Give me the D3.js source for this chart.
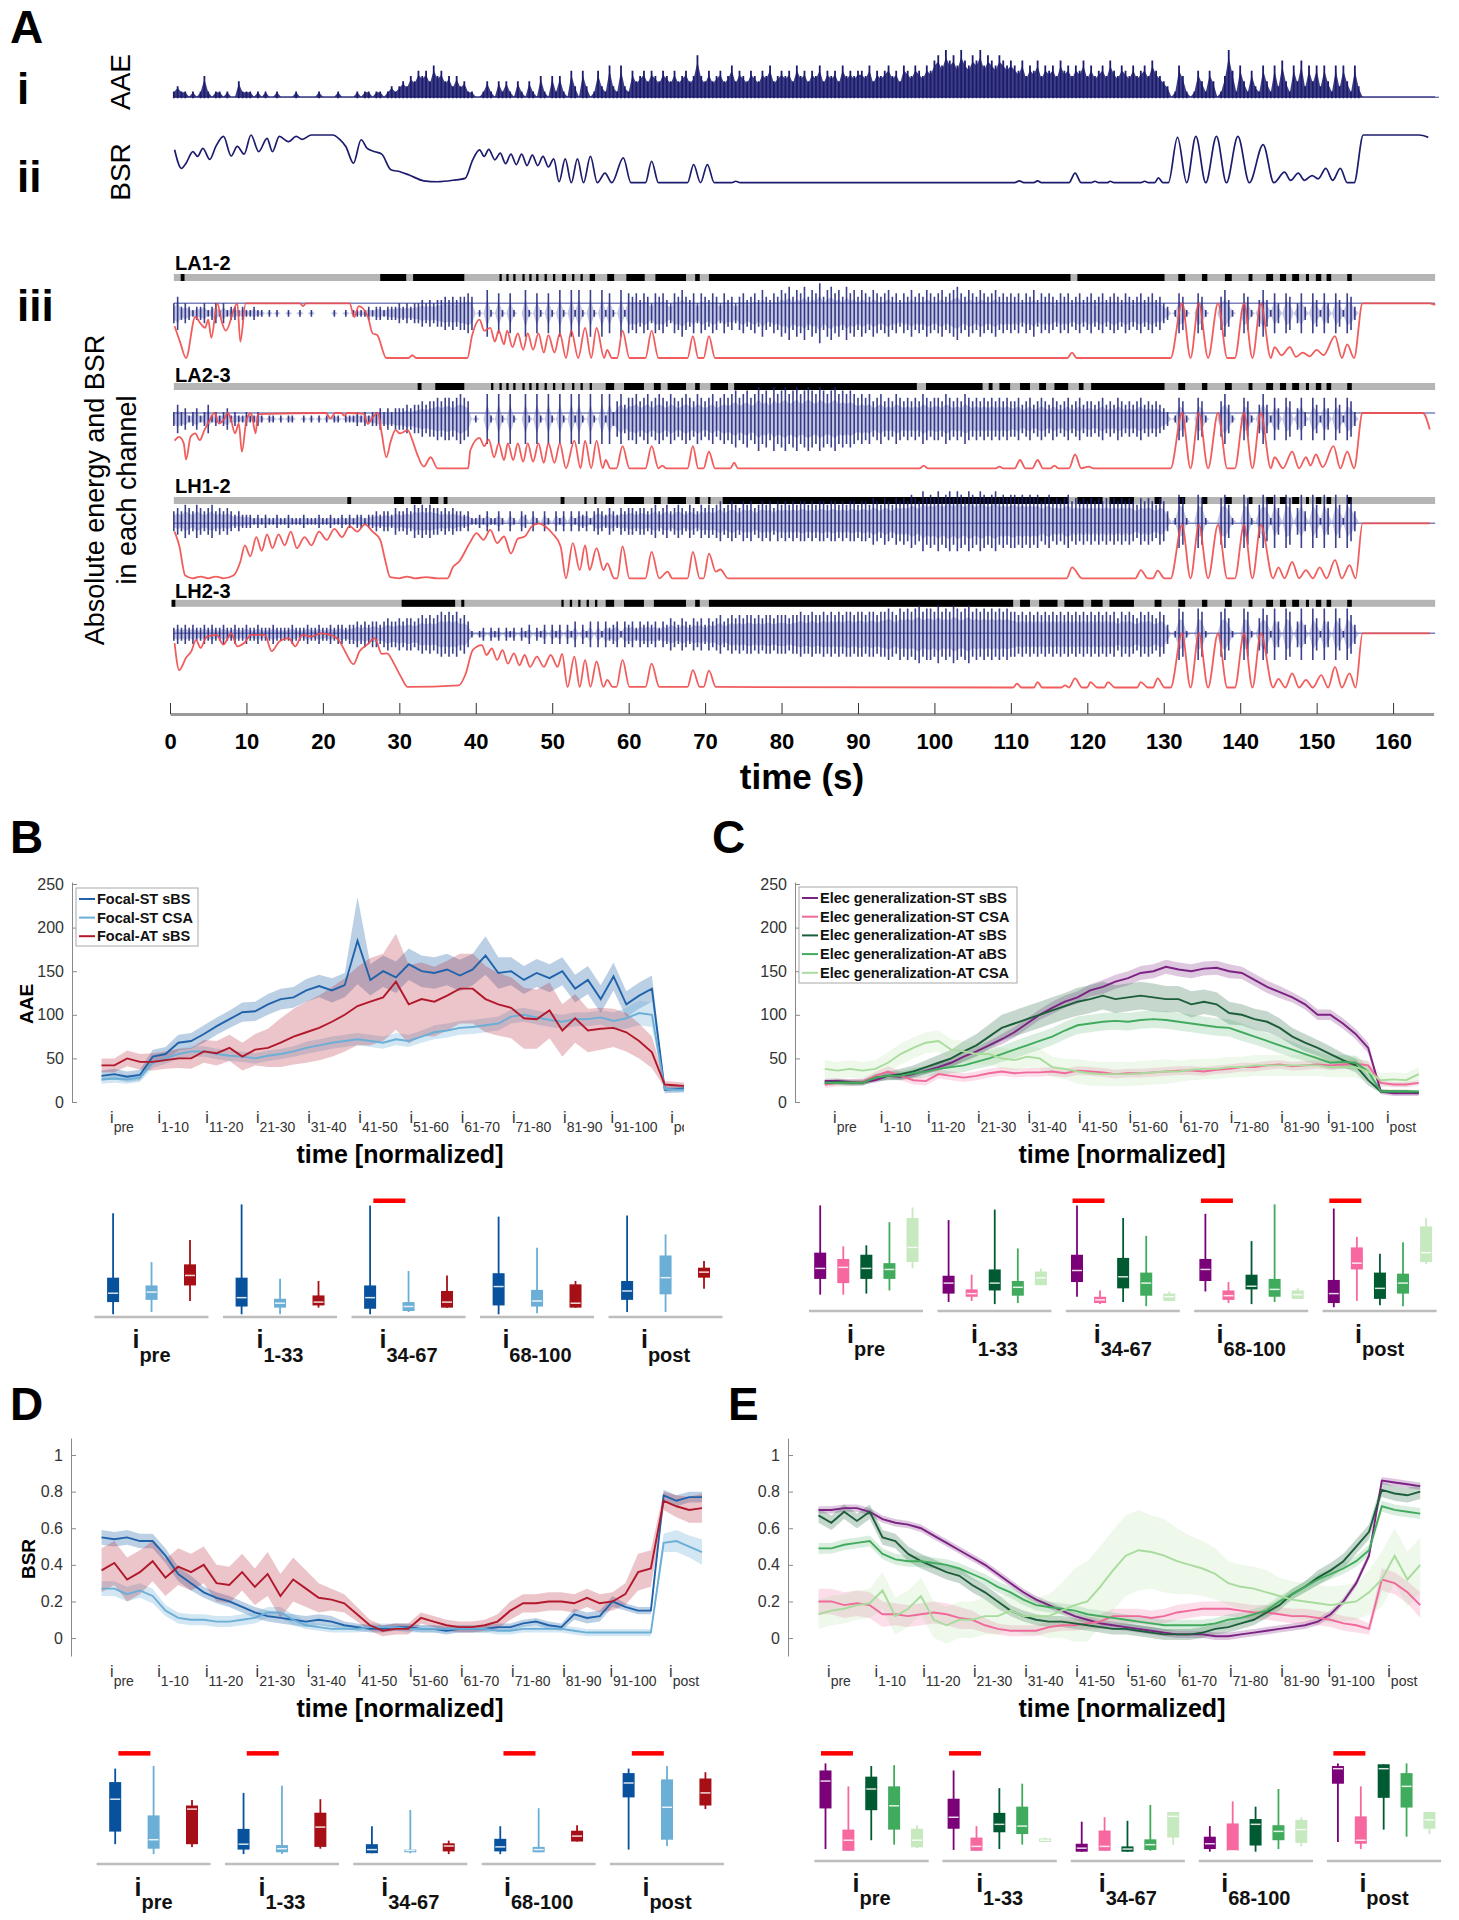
<!DOCTYPE html>
<html lang="en">
<head>
<meta charset="UTF-8">
<title>AAE and BSR across seizure</title>
<style>
  body{margin:0;background:#fff;}
  #main{width:1459px;height:1920px;}
</style>
</head>
<body>
<div id="main"></div>
<script src="https://d3js.org/d3.v7.min.js"></script>
<script>
/* =========== data: panel A (time in s) =========== */
// AAE of whole recording, one value every 0.5 s starting at 0.5 s (0..9)
const aaeTrace = [
  1,2,1,1,0,1,0,1,4,1,0,1,1,0,1,0,0,3,1,1,
  1,0,1,0,1,0,0,1,0,0,0,0,1,0,0,0,0,0,1,0,
  0,0,0,1,0,0,0,0,1,0,1,1,0,1,1,0,1,2,1,2,
  3,2,4,3,5,4,5,3,6,4,5,3,4,2,4,2,3,1,1,0,
  0,1,3,1,0,3,1,3,1,0,3,1,0,3,1,0,4,1,0,4,
  1,4,1,0,5,2,0,5,2,0,1,5,2,1,6,2,1,6,2,1,
  5,3,4,5,3,5,4,3,5,4,3,5,3,4,5,3,4,8,4,3,
  5,3,4,5,3,4,6,3,5,4,3,5,4,3,5,4,6,3,4,5,
  4,5,3,6,4,5,3,5,4,6,3,5,4,5,3,6,4,5,4,5,
  5,4,6,3,5,4,5,6,4,5,3,6,5,4,6,5,4,6,5,7,
  8,6,9,7,8,6,9,7,6,8,7,9,6,8,7,6,8,7,6,7,
  6,5,7,4,6,5,7,4,6,5,6,4,7,5,6,4,6,5,7,4,
  6,4,5,6,4,7,5,4,6,5,4,6,4,5,6,4,7,5,4,3,
  2,0,1,6,4,1,0,1,5,3,1,5,3,0,1,4,9,5,1,6,
  3,1,5,2,1,6,3,1,6,2,7,3,1,6,3,7,2,6,3,6,
  2,6,3,1,6,2,6,3,1,6,2,0,0,0,0,0,0,0,0,0,
  0,0,0,0,0,0,0,0,0,0,0,0
]
// BSR of whole recording, [time, bsr]
const bsrMain = [[0.6,0.69],[1.5,0.3],[2.1,0.41],[3.0,0.65],[3.6,0.55],[4.3,0.72],[5.2,0.49],[6.0,0.76],[7.0,0.97],[8.0,0.56],[8.8,0.76],[9.7,0.6],[10.6,1.0],[11.6,0.65],[12.7,0.93],[13.4,0.65],[14.3,0.97],[15.5,0.86],[16.5,0.97],[17.3,0.91],[18.5,1.0],[21.3,1.0],[22.2,0.91],[23.0,0.76],[24.0,0.41],[25.0,0.9],[25.8,0.72],[26.8,0.65],[27.7,0.6],[28.9,0.27],[30.1,0.23],[31.3,0.16],[33.2,0.04],[35.0,0.02],[37.4,0.06],[38.6,0.09],[39.6,0.48],[40.5,0.69],[41.1,0.55],[41.7,0.7],[42.5,0.48],[43.2,0.62],[43.9,0.4],[44.6,0.6],[45.3,0.38],[46.0,0.6],[46.7,0.36],[47.4,0.58],[48.1,0.36],[48.8,0.55],[49.5,0.33],[50.2,0.5],[50.9,0.02],[51.7,0.5],[52.5,0.0],[53.3,0.5],[54.1,0.0],[55.0,0.55],[55.9,0.0],[56.9,0.2],[57.8,0.0],[59.3,0.52],[60.3,0.0],[62.2,0.0],[63.0,0.45],[63.9,0.0],[67.7,0.0],[68.5,0.38],[69.4,0.0],[70.3,0.38],[71.2,0.0],[73.5,0.0],[74.0,0.03],[74.6,0.0],[110.5,0.0],[111.1,0.04],[111.7,0.0],[113.0,0.0],[113.5,0.04],[114.0,0.0],[117.6,0.0],[118.4,0.2],[119.2,0.0],[120.5,0.0],[121.0,0.03],[121.5,0.0],[122.6,0.0],[123.0,0.03],[123.5,0.0],[127.0,0.0],[127.5,0.03],[128.0,0.0],[128.8,0.0],[129.3,0.1],[129.9,0.0],[130.6,0.0],[131.8,0.95],[133.0,0.0],[134.2,0.97],[135.5,0.0],[136.9,0.97],[138.2,0.0],[139.7,0.97],[141.2,0.0],[143.0,0.8],[144.4,0.0],[145.8,0.22],[146.6,0.05],[147.6,0.2],[148.4,0.05],[149.4,0.15],[150.2,0.08],[151.2,0.3],[152.1,0.05],[153.1,0.3],[154.0,0.0],[154.9,0.0],[156.1,1.0],[163.4,1.0],[164.6,0.95]]

const channelNames = ['LA1-2','LA2-3','LH1-2','LH2-3']

// channel energy, one value every 0.5 s starting at 0.5 s (0..9)
const la12Energy = [
  3,5,2,3,2,1,2,2,3,1,2,3,1,3,1,2,2,1,2,1,
  1,2,1,1,0,1,0,1,0,0,1,0,0,1,0,0,1,0,0,0,
  0,0,1,0,0,1,0,1,1,1,1,2,1,2,2,1,2,2,2,3,
  2,3,2,3,3,4,3,4,3,4,4,5,4,5,4,5,5,6,5,0,
  1,0,7,1,0,6,1,0,6,1,0,0,7,1,0,6,1,0,6,1,
  0,7,1,0,7,1,7,1,0,7,1,0,7,1,6,1,0,7,1,6,
  5,6,4,6,5,3,6,5,6,4,3,6,5,7,5,4,6,3,6,5,
  4,6,5,3,6,4,5,3,5,6,4,5,6,4,7,5,4,6,5,7,
  6,8,5,7,6,8,5,7,6,9,5,7,8,6,7,5,8,6,7,5,
  7,6,5,7,6,5,6,7,5,6,4,6,5,7,5,6,5,7,6,5,
  6,7,5,6,7,8,6,5,7,6,5,7,6,5,6,7,5,6,5,6,
  5,6,4,6,5,7,4,6,5,6,5,4,6,5,6,4,5,6,4,5,
  6,4,5,6,4,5,6,5,4,6,5,4,5,6,4,5,6,4,5,3,
  2,0,1,6,5,1,0,0,6,5,1,0,0,0,5,7,4,1,0,0,
  6,5,1,0,4,7,4,1,6,3,0,6,5,0,3,6,2,0,6,4,
  1,6,3,0,6,4,1,6,5,2,0,0,0,0,0,0,0,0,0,0,
  0,0,0,0,0,0,0,0,0,0,0,0
]
const la23Energy = [
  2,4,2,3,1,2,3,1,2,4,1,2,1,2,3,1,2,1,1,2,
  1,1,2,1,0,1,1,0,1,0,1,1,0,0,1,0,1,0,1,0,
  1,0,1,1,0,1,1,1,2,1,2,1,2,2,3,2,3,2,3,3,
  3,4,3,4,4,5,4,5,5,6,5,6,6,5,6,7,6,5,0,1,
  0,0,7,1,0,7,1,0,7,1,0,0,7,1,0,7,1,0,7,1,
  0,7,1,0,7,1,7,1,0,7,1,0,7,1,7,2,5,7,4,6,
  6,7,5,6,7,5,6,7,6,5,7,6,5,6,7,6,5,7,6,5,
  6,7,5,6,7,6,7,8,6,7,8,6,7,9,7,8,6,9,7,8,
  9,7,8,9,7,8,9,8,7,9,8,7,8,9,7,8,7,8,7,6,
  7,6,7,5,6,7,5,6,5,7,6,5,6,5,6,5,7,6,5,6,
  6,5,7,6,5,6,5,7,6,5,6,5,6,5,6,5,6,5,6,5,
  5,6,4,5,6,4,5,6,5,4,6,5,4,5,6,4,5,6,4,5,
  5,4,5,6,4,5,4,6,5,4,5,4,5,6,4,5,4,5,4,3,
  2,0,1,6,5,1,0,0,6,5,1,0,0,0,5,7,4,1,0,0,
  6,5,1,0,4,7,4,1,6,3,0,6,5,0,3,6,2,0,6,4,
  1,6,3,0,6,4,1,6,5,2,0,0,0,0,0,0,0,0,0,0,
  0,0,0,0,0,0,0,0,0,0,0,0
]
const lh12Energy = [
  3,4,3,5,4,3,5,4,3,4,5,3,4,3,4,3,2,3,2,2,
  2,1,2,1,2,1,1,2,1,1,2,1,1,1,2,1,1,1,2,1,
  1,2,1,1,2,1,2,1,2,2,1,2,2,3,2,3,3,2,4,3,
  3,4,3,5,4,5,4,5,4,4,3,4,3,4,3,3,2,3,1,1,
  2,1,3,1,1,3,1,0,3,1,0,3,2,0,3,1,0,3,1,0,
  3,1,3,0,3,1,3,2,3,1,3,4,3,2,4,3,2,4,3,4,
  4,3,4,4,3,4,5,3,4,5,3,4,5,4,3,5,4,3,5,4,
  5,4,5,6,4,5,6,5,4,6,5,6,4,5,6,5,6,4,6,5,
  6,5,6,5,6,6,5,6,5,6,6,5,6,6,5,6,5,6,6,5,
  6,6,5,7,6,5,7,6,5,7,6,7,6,8,7,6,9,7,8,7,
  9,7,8,9,7,9,8,7,9,8,7,9,8,7,8,9,7,8,7,8,
  8,7,8,7,8,7,8,6,7,8,6,7,6,7,8,6,7,6,7,6,
  7,6,7,6,7,6,7,6,7,6,7,6,5,7,6,7,6,5,7,6,
  3,0,1,8,7,1,0,0,8,7,1,0,0,0,7,8,5,1,0,0,
  8,7,1,0,5,8,6,1,8,4,0,8,7,0,4,8,3,0,8,5,
  1,8,4,0,8,5,1,8,6,3,0,0,0,0,0,0,0,0,0,0,
  0,0,0,0,0,0,0,0,0,0,0,0
]
const lh23Energy = [
  2,3,2,3,2,3,2,2,3,2,3,2,2,3,2,2,3,2,2,3,
  2,2,3,2,2,2,3,2,2,2,2,3,2,2,2,3,2,2,3,2,
  2,3,2,3,3,2,3,3,4,3,4,3,4,4,3,4,5,4,4,5,
  4,5,5,4,5,6,5,6,5,6,7,6,7,6,7,5,6,4,1,0,
  1,2,0,2,1,2,0,2,1,2,0,2,1,3,0,2,1,3,0,3,
  1,3,0,3,1,4,0,3,1,4,0,4,1,4,2,3,4,1,4,3,
  4,2,4,3,4,3,4,2,4,3,5,4,3,5,4,3,5,4,5,3,
  5,4,5,6,4,5,6,5,6,5,6,6,5,6,5,6,6,5,6,6,
  6,5,6,6,7,6,6,7,6,6,7,6,7,6,7,6,7,7,6,7,
  7,6,7,7,6,7,7,8,7,6,8,7,8,7,8,9,7,8,8,7,
  9,7,8,7,9,8,7,8,9,7,8,7,8,7,8,7,8,7,8,7,
  7,6,7,6,7,6,7,6,7,6,7,6,7,6,7,6,7,6,7,6,
  7,6,7,6,7,6,7,5,7,6,7,6,5,7,6,7,6,5,7,6,
  3,0,1,8,7,1,0,0,8,7,1,0,0,0,7,8,5,1,0,0,
  8,7,1,0,5,8,6,1,8,4,0,8,7,0,4,8,3,0,8,5,
  1,8,4,0,8,5,1,8,6,3,0,0,0,0,0,0,0,0,0,0,
  0,0,0,0,0,0,0,0,0,0,0,0
]

// channel BSR, [time, bsr]
const la12Bsr = [[0.6,0.58],[1.3,0.3],[2.1,0.0],[3.3,0.75],[4.0,0.63],[4.6,0.55],[5.0,0.7],[5.4,0.37],[6.2,1.0],[6.7,0.7],[7.3,0.5],[8.8,1.0],[9.2,0.3],[9.9,1.0],[17.0,1.0],[17.4,0.95],[17.8,1.0],[23.5,1.0],[24.1,0.75],[24.7,0.95],[25.9,0.75],[26.5,0.45],[27.1,0.42],[28.3,0.0],[31.2,0.0],[31.7,0.05],[32.2,0.0],[38.9,0.0],[39.5,0.4],[40.5,0.7],[41.1,0.5],[41.9,0.55],[42.5,0.3],[43.0,0.5],[43.7,0.25],[44.1,0.5],[44.8,0.2],[45.5,0.45],[46.2,0.15],[46.8,0.45],[47.5,0.15],[48.2,0.45],[48.9,0.1],[49.5,0.42],[50.3,0.1],[51.0,0.45],[51.8,0.0],[52.5,0.5],[53.4,0.0],[54.3,0.55],[55.1,0.0],[55.8,0.55],[56.8,0.0],[57.2,0.15],[57.8,0.0],[58.5,0.0],[59.2,0.5],[60.1,0.0],[62.2,0.0],[63.0,0.5],[63.9,0.0],[67.7,0.0],[68.4,0.4],[69.1,0.0],[69.8,0.0],[70.5,0.4],[71.3,0.0],[117.4,0.0],[118.0,0.1],[118.6,0.0],[130.9,0.0],[132.4,1.0],[133.5,0.0],[134.6,1.0],[135.8,0.0],[137.1,1.0],[138.3,0.0],[139.3,0.0],[140.5,1.0],[141.6,0.0],[142.7,1.0],[144.0,0.0],[144.5,0.2],[145.4,0.05],[146.5,0.2],[147.3,0.02],[148.2,0.1],[149.1,0.03],[150.0,0.15],[150.9,0.05],[152.4,0.4],[153.3,0.0],[154.0,0.25],[154.9,0.0],[156.0,1.0],[164.8,1.0],[165.5,0.97]]
const la23Bsr = [[0.6,0.5],[1.2,0.57],[1.8,0.45],[2.1,0.16],[2.7,0.57],[3.3,0.63],[3.9,0.51],[4.5,0.69],[5.2,0.87],[5.8,1.0],[6.4,0.81],[7.0,0.87],[7.6,1.0],[8.0,0.87],[8.5,0.63],[9.0,0.81],[9.4,0.3],[10.0,0.87],[10.6,1.0],[11.2,0.63],[11.5,0.98],[20.4,1.0],[21.0,0.9],[21.6,1.0],[22.4,1.0],[22.8,0.95],[23.2,1.0],[25.3,0.99],[25.9,0.8],[26.5,0.92],[27.2,1.0],[27.7,0.63],[28.3,0.2],[28.9,0.5],[29.5,0.69],[30.1,0.63],[31.1,0.69],[31.7,0.51],[32.3,0.27],[33.2,0.03],[34.1,0.2],[35.0,0.0],[39.0,0.0],[39.3,0.33],[40.5,0.55],[41.1,0.4],[41.7,0.52],[42.4,0.2],[43.0,0.45],[43.7,0.15],[44.2,0.45],[44.9,0.15],[45.5,0.45],[46.2,0.12],[46.8,0.45],[47.5,0.12],[48.2,0.45],[48.9,0.1],[49.5,0.45],[50.3,0.1],[51.0,0.45],[51.8,0.0],[52.9,0.5],[53.7,0.0],[54.3,0.5],[55.1,0.0],[55.8,0.5],[56.6,0.0],[57.0,0.15],[57.6,0.0],[58.4,0.0],[59.2,0.4],[60.1,0.0],[62.2,0.0],[63.0,0.4],[63.9,0.0],[64.4,0.05],[64.9,0.0],[67.7,0.0],[68.4,0.4],[69.1,0.0],[69.8,0.0],[70.5,0.3],[71.3,0.0],[73.3,0.0],[73.8,0.1],[74.3,0.0],[98.1,0.0],[98.6,0.05],[99.1,0.0],[108.0,0.0],[108.5,0.03],[109.0,0.0],[110.5,0.0],[111.2,0.15],[111.9,0.0],[112.8,0.0],[113.5,0.15],[114.2,0.0],[115.2,0.0],[115.7,0.05],[116.2,0.0],[117.6,0.0],[118.4,0.25],[119.2,0.0],[120.2,0.03],[120.8,0.0],[130.9,0.0],[132.4,1.0],[133.5,0.0],[134.6,1.0],[135.8,0.0],[137.1,1.0],[138.3,0.0],[139.3,0.0],[140.5,1.0],[141.6,0.0],[142.7,1.0],[144.0,0.0],[144.5,0.2],[145.6,0.0],[146.8,0.3],[147.7,0.0],[148.6,0.2],[149.2,0.05],[149.9,0.25],[150.8,0.02],[152.2,0.4],[153.1,0.0],[154.0,0.3],[154.9,0.0],[156.0,1.0],[163.9,1.0],[164.8,0.7]]
const lh12Bsr = [[0.6,0.85],[1.2,0.6],[2.0,0.05],[3.0,0.0],[4.0,0.03],[5.0,0.0],[6.0,0.03],[7.0,0.0],[8.3,0.05],[9.2,0.3],[9.8,0.6],[10.5,0.4],[11.3,0.75],[12.0,0.5],[12.7,0.8],[13.4,0.55],[14.2,0.8],[15.0,0.6],[15.8,0.85],[16.6,0.55],[17.6,0.75],[18.5,0.6],[19.5,0.85],[20.5,0.7],[21.5,0.9],[22.5,0.75],[23.5,0.95],[24.5,0.85],[25.5,0.98],[26.5,0.85],[27.5,0.7],[28.2,0.3],[28.8,0.02],[30.0,0.0],[31.0,0.03],[32.0,0.0],[33.5,0.02],[35.0,0.0],[36.3,0.0],[37.0,0.2],[37.8,0.3],[39.2,0.64],[40.1,0.82],[41.0,0.7],[41.9,0.88],[42.8,0.64],[43.7,0.76],[44.6,0.45],[45.5,0.72],[46.4,0.76],[47.3,0.94],[48.2,1.0],[49.1,0.94],[50.0,0.82],[51.1,0.58],[51.8,0.0],[52.7,0.64],[53.6,0.15],[54.3,0.6],[54.9,0.15],[55.8,0.55],[56.7,0.15],[57.2,0.27],[58.1,0.0],[58.5,0.0],[59.2,0.58],[60.1,0.0],[62.2,0.0],[63.0,0.48],[64.0,0.0],[65.1,0.12],[65.7,0.0],[67.7,0.0],[68.4,0.48],[69.3,0.0],[69.8,0.0],[70.5,0.45],[71.4,0.12],[72.0,0.16],[73.0,0.0],[117.3,0.0],[118.0,0.2],[119.3,0.0],[126.3,0.0],[127.0,0.15],[127.9,0.0],[128.6,0.0],[129.2,0.14],[130.1,0.0],[130.9,0.0],[132.4,0.97],[133.5,0.0],[134.6,0.97],[135.8,0.0],[137.1,0.97],[138.3,0.0],[139.3,0.0],[140.5,0.97],[141.6,0.0],[142.7,0.97],[144.3,0.0],[145.0,0.2],[145.8,0.0],[146.8,0.3],[147.7,0.0],[148.6,0.15],[149.5,0.0],[150.4,0.2],[151.3,0.0],[152.4,0.33],[153.3,0.0],[154.3,0.24],[155.1,0.0],[156.0,1.0],[164.8,1.0]]
const lh23Bsr = [[0.6,0.82],[1.2,0.32],[2.1,0.55],[2.8,0.67],[3.4,0.88],[4.0,0.73],[4.8,0.94],[6.1,0.97],[7.0,0.79],[8.0,1.0],[8.8,0.76],[9.7,0.82],[10.6,0.97],[12.4,0.97],[13.3,0.67],[14.3,0.85],[15.5,0.91],[16.4,0.76],[17.3,0.97],[18.5,0.94],[19.7,1.0],[21.0,0.97],[22.2,0.85],[23.0,0.64],[24.0,0.43],[24.8,0.67],[25.8,0.79],[26.8,0.91],[27.7,0.62],[28.4,0.63],[29.3,0.44],[30.2,0.2],[31.1,0.01],[37.8,0.04],[38.7,0.26],[39.6,0.69],[40.8,0.78],[41.4,0.6],[42.1,0.72],[42.8,0.51],[43.5,0.69],[44.2,0.44],[45.0,0.63],[45.7,0.41],[46.4,0.6],[47.1,0.38],[48.0,0.57],[48.9,0.38],[49.8,0.6],[50.7,0.38],[51.3,0.62],[52.0,0.01],[52.9,0.57],[53.6,0.01],[54.3,0.51],[55.0,0.01],[55.8,0.48],[56.7,0.01],[57.2,0.14],[57.9,0.01],[58.4,0.01],[59.2,0.51],[60.1,0.01],[62.2,0.01],[63.0,0.44],[64.0,0.01],[67.7,0.01],[68.4,0.32],[69.3,0.01],[69.8,0.01],[70.5,0.31],[71.4,0.01],[110.3,0.0],[110.8,0.07],[111.4,0.0],[113.0,0.0],[113.5,0.1],[114.1,0.0],[116.6,0.0],[117.1,0.04],[117.6,0.0],[118.4,0.17],[119.3,0.0],[120.0,0.0],[120.4,0.1],[121.3,0.0],[122.2,0.0],[122.7,0.1],[123.6,0.0],[126.5,0.0],[127.0,0.1],[127.9,0.0],[128.6,0.0],[129.2,0.17],[130.1,0.0],[130.9,0.0],[132.4,1.0],[133.5,0.0],[134.6,1.0],[135.8,0.0],[137.1,1.0],[138.3,0.0],[139.3,0.0],[140.5,1.0],[141.6,0.0],[142.7,1.0],[144.3,0.0],[145.0,0.16],[145.9,0.0],[146.8,0.26],[147.7,0.0],[148.6,0.14],[149.5,0.0],[150.6,0.23],[151.5,0.0],[152.4,0.38],[153.3,0.0],[154.3,0.26],[155.1,0.0],[156.0,1.0],[164.8,1.0]]

// detected burst events per channel, [start, end] in s
const la12Events = [[1.4,1.9],[27.5,30.9],[31.8,38.5],[43.1,43.4],[44.0,44.3],[44.9,45.2],[46.1,46.4],[47.0,47.3],[47.9,48.2],[49.0,49.3],[50.1,50.4],[51.3,51.8],[52.6,52.9],[53.7,54.0],[54.9,55.6],[57.2,58.1],[59.7,62.1],[63.5,67.5],[68.7,69.3],[70.5,117.8],[118.7,130.1],[131.9,132.8],[135.0,135.7],[138.0,138.9],[141.1,141.6],[143.4,144.3],[145.2,146.0],[146.8,147.7],[148.6,149.0],[149.9,150.6],[151.3,151.9],[154.0,154.6]]
const la23Events = [[32.4,32.9],[34.7,38.5],[42.0,42.3],[43.1,43.4],[44.0,44.3],[44.9,45.2],[46.1,46.4],[47.0,47.3],[47.9,48.2],[49.0,49.3],[50.1,50.4],[51.3,51.6],[52.6,52.9],[53.7,54.0],[54.9,55.2],[57.0,58.1],[59.4,62.0],[63.3,64.2],[65.1,67.5],[68.7,69.3],[70.7,73.0],[73.8,97.7],[98.9,106.3],[107.1,107.6],[108.5,109.9],[111.2,112.5],[113.7,114.6],[115.7,117.5],[118.9,119.5],[120.5,130.1],[131.9,132.8],[135.0,135.7],[138.0,138.9],[141.1,141.6],[143.4,144.3],[145.2,146.0],[146.8,147.7],[148.6,149.0],[149.9,150.6],[151.3,151.9],[154.0,154.6]]
const lh12Events = [[23.2,23.7],[29.3,30.6],[31.5,32.9],[34.0,35.1],[35.8,36.3],[51.1,51.6],[54.2,54.5],[55.5,55.8],[57.0,58.1],[59.4,62.0],[63.3,64.2],[65.1,67.5],[68.7,69.3],[70.4,70.7],[72.3,117.5],[118.7,122.0],[122.9,126.1],[128.8,129.7],[131.9,132.8],[135.0,135.7],[138.0,138.9],[141.1,141.6],[143.4,144.3],[145.2,146.0],[146.8,147.7],[148.6,149.0],[149.9,150.6],[151.3,151.9],[154.0,154.6]]
const lh23Events = [[0.2,0.7],[30.3,37.3],[38.1,38.5],[51.2,51.5],[52.3,52.6],[53.4,53.7],[54.5,54.8],[55.6,55.9],[57.0,58.1],[59.4,62.0],[63.3,67.5],[68.7,69.3],[70.5,110.3],[111.2,112.5],[113.7,116.1],[117.0,119.5],[120.5,122.0],[122.9,126.1],[128.8,129.7],[131.9,132.8],[135.0,135.7],[138.0,138.9],[141.1,141.6],[143.4,144.3],[145.2,146.0],[146.8,147.7],[148.6,149.0],[149.9,150.6],[151.3,151.9],[154.0,154.6]]

const timeTicks = [0,10,20,30,40,50,60,70,80,90,100,110,120,130,140,150,160]

/* =========== data: panels B-E (normalized time) =========== */
// tick k sits at position k; samples start at -0.4 and step 0.25 (48 samples)
const tickNames = ['pre','1-10','11-20','21-30','31-40','41-50','51-60','61-70','71-80','81-90','91-100','post']
const focalNames = ['Focal-ST sBS','Focal-ST CSA','Focal-AT sBS']
const elecNames = ['Elec generalization-ST sBS','Elec generalization-ST CSA','Elec generalization-AT sBS','Elec generalization-AT aBS','Elec generalization-AT CSA']

const focalSTsBS_aae = [30,32,29,31,52,55,68,70,78,87,95,103, 104,112,118,120,128,133,128,134,185,140,150,143, 158,150,148,152,145,152,168,148,150,140,148,142, 150,130,140,118,144,112,122,130,14,15,16,16]
const focalSTsBS_aaeSd = [6,6,6,6,8,8,9,9,10,10,10,11, 11,12,12,12,13,13,14,14,50,18,18,18, 18,18,18,18,18,18,22,18,16,16,16,16, 16,16,16,16,16,15,15,15,4,4,4,4]
const focalSTcsa_aae = [26,27,26,28,45,50,55,58,58,55,53,52, 50,53,55,58,62,65,68,70,72,70,68,72, 70,75,80,82,85,86,88,90,98,100,97,94, 92,95,95,97,93,96,102,100,15,14,14,14]
const focalSTcsa_aaeSd = [5,5,5,5,6,6,6,6,6,6,6,6, 6,6,6,6,7,7,7,7,7,7,7,7, 7,7,8,8,8,8,8,8,8,8,8,8, 8,8,8,8,10,12,14,14,3,3,3,3]
const focalATsBS_aae = [42,42,50,46,46,48,50,50,58,56,62,52, 60,62,68,75,80,85,92,100,110,115,120,138, 112,118,115,122,130,130,118,112,108,96,95,105, 82,96,82,84,85,80,70,57,20,19,18,18]
const focalATsBS_aaeSd = [8,8,9,9,10,10,11,12,13,14,15,16, 18,22,28,32,35,37,40,42,45,50,50,55, 45,42,40,40,40,40,38,36,35,35,34,32, 30,28,25,24,22,22,20,18,4,4,4,4]

const elecSTsBS_aae = [24,24,23,23,25,30,29,32,36,40,45,52, 58,65,72,80,90,100,108,115,120,128,132,138, 142,148,150,155,152,150,153,154,150,148,140,132, 126,120,112,100,100,90,78,62,12,10,10,10]
const elecSTsBS_aaeSd = [3,3,3,3,3,4,4,4,4,4,5,5, 5,5,6,6,6,6,7,7,7,7,8,8, 8,8,8,8,8,8,8,8,8,7,7,7, 7,6,6,6,6,6,6,6,3,3,3,3]
const elecSTcsa_aae = [20,22,22,23,30,35,30,25,24,32,30,28, 30,33,35,33,34,34,35,33,36,35,34,32, 33,33,34,35,36,36,35,37,38,40,40,42, 43,41,42,43,42,43,44,42,22,20,20,22]
const elecSTcsa_aaeSd = [4,4,4,4,5,6,5,5,5,5,5,5, 5,5,5,5,5,5,5,5,5,5,5,5, 5,5,5,5,5,5,5,5,5,5,5,5, 5,5,5,5,5,5,5,5,3,3,3,3]
const elecATsBS_aae = [22,23,22,22,28,30,32,35,40,45,50,58, 65,75,85,90,95,100,105,110,115,118,122,118, 120,122,120,118,118,112,115,112,102,100,95,92, 85,75,68,62,55,48,42,25,12,12,12,11]
const elecATsBS_aaeSd = [3,3,3,3,4,5,6,7,8,9,10,12, 13,14,15,15,15,15,15,15,16,16,16,16, 16,16,16,15,15,15,14,14,13,12,12,12, 11,10,10,9,9,8,8,6,2,2,2,2]
const elecATabs_aae = [22,22,22,22,28,30,30,33,35,38,40,42, 46,50,55,60,65,70,75,82,88,90,92,93, 92,94,95,94,92,90,88,86,85,80,75,70, 65,60,55,50,45,46,45,35,12,12,12,12]
const elecATabs_aaeSd = [3,3,3,3,4,5,5,6,6,7,7,8, 8,9,9,10,10,10,10,10,10,10,10,10, 10,10,10,10,10,10,10,10,10,10,9,9, 9,9,8,8,8,8,8,6,2,2,2,2]
const elecATcsa_aae = [38,36,38,36,38,45,55,62,68,70,60,58, 55,55,50,48,52,50,40,38,35,33,32,32, 32,33,34,35,35,37,38,38,40,40,42,42, 42,42,42,42,40,40,40,35,25,26,25,32]
const elecATcsa_aaeSd = [10,10,10,10,10,12,12,12,12,12,12,12, 12,12,12,12,12,12,12,12,14,14,14,14, 14,14,14,14,12,12,12,12,12,12,12,12, 12,12,12,12,12,12,12,12,8,8,8,8]

const focalSTsBS_bsr = [.55,.54,.55,.53,.53,.45,.35,.30,.25,.22,.20,.17, .14,.12,.11,.10,.09,.10,.09,.07,.06,.05,.05,.06, .06,.05,.05,.04,.05,.05,.05,.06,.06,.08,.09,.07, .06,.13,.11,.12,.20,.17,.15,.15,.78,.75,.77,.77]
const focalSTsBS_bsrSd = [.04,.04,.04,.04,.04,.04,.04,.04,.03,.03,.03,.03, .03,.03,.03,.03,.03,.03,.03,.02,.02,.02,.02,.02, .02,.02,.02,.02,.02,.02,.02,.02,.02,.02,.02,.02, .02,.03,.03,.03,.03,.02,.02,.02,.03,.03,.03,.03]
const focalSTcsa_bsr = [.27,.27,.24,.26,.23,.15,.11,.10,.10,.09,.09,.10, .11,.14,.14,.10,.07,.06,.05,.05,.05,.06,.06,.06, .05,.05,.05,.05,.05,.05,.05,.04,.04,.05,.05,.05, .05,.04,.03,.03,.03,.03,.03,.03,.52,.53,.50,.47]
const focalSTcsa_bsrSd = [.04,.04,.04,.04,.04,.03,.03,.03,.03,.03,.03,.03, .03,.03,.03,.03,.02,.02,.02,.02,.02,.02,.02,.02, .02,.02,.02,.02,.02,.02,.02,.02,.02,.02,.02,.02, .02,.02,.02,.02,.02,.02,.02,.02,.05,.06,.06,.07]
const focalATsBS_bsr = [.37,.41,.32,.36,.42,.33,.39,.36,.40,.30,.29,.36, .28,.35,.23,.32,.27,.22,.21,.19,.13,.07,.04,.05, .05,.11,.09,.07,.06,.06,.07,.09,.15,.19,.19,.20, .20,.19,.22,.19,.20,.24,.36,.38,.75,.72,.70,.71]
const focalATsBS_bsrSd = [.12,.12,.12,.12,.11,.10,.10,.10,.10,.10,.10,.10, .10,.12,.12,.12,.10,.08,.06,.05,.04,.03,.03,.03, .03,.03,.03,.03,.03,.03,.03,.04,.05,.05,.05,.05, .05,.05,.05,.05,.05,.06,.10,.10,.05,.06,.07,.08]

const elecSTsBS_bsr = [.70,.70,.71,.71,.69,.65,.63,.62,.60,.56,.52,.48, .44,.40,.35,.30,.25,.21,.18,.15,.12,.10,.08,.07, .06,.05,.04,.03,.02,.02,.02,.01,.01,.02,.03,.04, .05,.06,.07,.09,.13,.20,.30,.45,.86,.85,.84,.83]
const elecSTsBS_bsrSd = [.02,.02,.02,.02,.02,.02,.02,.02,.02,.02,.02,.02, .02,.02,.02,.02,.02,.02,.02,.02,.02,.02,.02,.02, .02,.02,.02,.02,.02,.02,.02,.02,.02,.02,.02,.02, .02,.02,.02,.02,.02,.02,.02,.02,.02,.02,.02,.02]
const elecSTcsa_bsr = [.20,.20,.18,.19,.18,.13,.13,.12,.13,.14,.13,.11, .10,.07,.05,.04,.04,.04,.06,.07,.07,.08,.09,.12, .12,.12,.11,.12,.14,.15,.16,.16,.16,.15,.14,.14, .13,.12,.12,.11,.10,.08,.07,.05,.32,.30,.25,.18]
const elecSTcsa_bsrSd = [.07,.07,.07,.07,.07,.07,.06,.06,.06,.06,.06,.06, .05,.04,.03,.03,.03,.03,.03,.03,.03,.03,.04,.04, .04,.04,.04,.04,.04,.04,.04,.04,.04,.04,.04,.04, .04,.04,.04,.04,.04,.04,.04,.03,.06,.06,.06,.07]
const elecATsBS_bsr = [.67,.63,.69,.64,.69,.55,.53,.46,.42,.39,.36,.34, .29,.25,.20,.15,.12,.10,.09,.09,.08,.07,.06,.05, .05,.04,.03,.02,.02,.02,.03,.05,.06,.08,.10,.14, .18,.24,.28,.33,.37,.42,.50,.58,.81,.79,.78,.80]
const elecATsBS_bsrSd = [.04,.04,.04,.04,.04,.04,.04,.04,.04,.04,.04,.04, .04,.04,.04,.03,.03,.03,.03,.03,.03,.03,.03,.03, .03,.03,.03,.03,.03,.03,.03,.03,.03,.03,.03,.03, .03,.03,.03,.04,.04,.04,.04,.04,.04,.04,.04,.04]
const elecATabs_bsr = [.49,.49,.51,.52,.53,.46,.43,.42,.42,.41,.40,.38, .35,.32,.28,.25,.21,.18,.17,.16,.15,.13,.12,.11, .10,.09,.08,.07,.07,.07,.07,.08,.10,.11,.13,.15, .20,.24,.28,.32,.35,.38,.42,.48,.72,.70,.69,.68]
const elecATabs_bsrSd = [.03,.03,.03,.03,.03,.03,.03,.03,.03,.03,.03,.03, .03,.03,.03,.03,.03,.03,.03,.03,.03,.03,.03,.03, .03,.03,.03,.03,.03,.03,.03,.03,.03,.03,.03,.03, .03,.03,.03,.03,.03,.03,.03,.03,.03,.03,.03,.03]
const elecATcsa_bsr = [.13,.15,.16,.18,.19,.26,.12,.16,.23,.10,.07,.10, .10,.12,.12,.15,.12,.12,.12,.15,.18,.20,.28,.37, .45,.48,.47,.45,.42,.40,.38,.35,.30,.28,.27,.25, .23,.21,.20,.19,.18,.19,.20,.25,.32,.45,.32,.40]
const elecATcsa_bsrSd = [.08,.08,.08,.08,.08,.10,.10,.10,.10,.10,.10,.10, .10,.10,.10,.10,.10,.10,.12,.15,.20,.22,.22,.22, .22,.22,.20,.20,.18,.16,.15,.14,.12,.12,.12,.12, .10,.10,.10,.10,.10,.10,.10,.12,.15,.15,.15,.15]

// box plots: per group, per series [min, q1, median, q3, max] (0-100 scale)
const boxGroups = ['pre','1-33','34-67','68-100','post']
const boxFocalAAE = [
  [[0,11,19,33,91],[2,13,20,26,47],[12,26,35,45,67]],
  [[0,7,15,33,99],[0,6,10,14,32],[6,8,11,17,30]],
  [[0,5,15,26,98],[2,3,7,11,39],[6,6,11,21,35]],
  [[0,8,25,37,88],[1,7,12,22,60],[6,6,10,27,30]],
  [[2,13,21,30,89],[2,18,33,53,72],[23,33,38,42,48]]
]
const boxElecAAE = [
  [[13,28,38,53,98],[13,24,39,47,59],[14,28,38,51,60],[17,28,37,43,82],[38,44,58,86,96]],
  [[6,14,24,31,84],[7,11,14,18,32],[4,17,24,37,94],[5,12,20,26,57],[22,22,29,35,38]],
  [[11,25,36,51,98],[4,5,8,11,17],[6,19,30,48,86],[2,12,24,34,69],[7,7,11,14,16]],
  [[16,26,37,47,90],[5,8,12,17,25],[4,18,21,32,64],[6,11,18,28,99],[9,9,13,17,19]],
  [[1,5,14,27,95],[7,37,43,58,68],[3,9,19,34,52],[2,14,24,33,63],[42,44,53,78,86]]
]
const boxFocalBSR = [
  [[12,26,62,81,96],[1,7,17,44,99],[9,12,51,55,61]],
  [[1,6,12,29,69],[1,3,7,11,77],[7,9,31,47,62]],
  [[2,2,6,12,32],[2,3,5,6,50],[1,4,10,13,16]],
  [[1,4,9,18,32],[3,3,6,9,52],[15,15,21,27,33]],
  [[6,64,80,91,96],[10,17,53,84,99],[51,55,69,85,92]]
]
const boxElecBSR = [
  [[3,49,80,92,100],[1,1,13,25,74],[13,47,71,85,97],[8,25,52,74,98],[4,5,13,26,30]],
  [[2,26,39,60,92],[1,1,6,16,29],[3,22,31,44,72],[8,20,29,51,77],[11,11,13,15,16]],
  [[0,0,4,9,34],[1,1,6,24,39],[0,0,3,6,35],[1,2,8,14,53],[8,16,40,45,45]],
  [[0,3,9,17,29],[1,1,1,32,57],[0,7,31,37,51],[3,13,23,30,71],[6,10,25,36,39]],
  [[11,77,94,97,100],[3,9,13,40,74],[25,61,94,99,99],[17,50,74,89,100],[20,26,36,45,45]]
]
// groups with a significant difference between the first two series
const sigFocalAAE = [2]
const sigElecAAE = [2,3,4]
const sigFocalBSR = [0,1,3,4]
const sigElecBSR = [0,1,4]

/* =========== styles =========== */
const SANS = 'Arial, "Liberation Sans", Helvetica, sans-serif'
const focalColors = ['#2163aa','#6baed6','#b2182b']
const focalBox = ['#08519c','#6baed6','#a50f15']
const elecColors = ['#7b2282','#ef6a9a','#1d5e3a','#41ab5d','#a8dc9c']
const elecBox = ['#7a0177','#f768a1','#005a32','#41ab5d','#c7e9c0']

/* =========== svg =========== */
const svg = d3.select('#main').append('svg')
  .attr('width',1459).attr('height',1920)
  .attr('viewBox','0 0 1459 1920')

function txt(g, s, x, y, o = {}) {
  const t = g.append('text').attr('x',x).attr('y',y).text(s)
    .attr('font-family', SANS)
    .attr('font-size', o.size || 16)
    .attr('font-weight', o.weight || 'normal')
    .attr('fill', o.fill || '#000')
    .attr('text-anchor', o.anchor || 'start')
  if (o.rotate) t.attr('transform', `rotate(${o.rotate},${x},${y})`)
  return t
}
// "i" with a subscript
function subLabel(g, x, y, sub, o) {
  const t = g.append('text').attr('x',x).attr('y',y).attr('text-anchor','middle')
    .attr('font-family',SANS).attr('font-weight',o.weight).attr('fill',o.fill)
  t.append('tspan').attr('font-size',o.size).text('i')
  t.append('tspan').attr('font-size',o.subSize).attr('dy',o.dy).text(sub)
}

/* =========== panel A =========== */
txt(svg,'A',10,43,{size:46,weight:'bold'})
txt(svg,'i',17,104,{size:44,weight:'bold'})
txt(svg,'ii',17,192,{size:44,weight:'bold'})
txt(svg,'iii',17,321,{size:44,weight:'bold'})
txt(svg,'AAE',130,82,{size:28,rotate:-90,anchor:'middle'})
txt(svg,'BSR',130,172,{size:28,rotate:-90,anchor:'middle'})
txt(svg,'Absolute energy and BSR',104,490,{size:27,rotate:-90,anchor:'middle'})
txt(svg,'in each channel',136,490,{size:27,rotate:-90,anchor:'middle'})

const tScale = d3.scaleLinear().domain([0,165.3]).range([170,1433.6])
const sampleT = k => 0.5 + 0.5 * k

// (i) AAE: filled envelope plus spikes
const aaeY = d3.scaleLinear().domain([0,9]).range([96.7,50])
svg.append('line').attr('x1',tScale(0.5)).attr('x2',tScale(165.5))
  .attr('y1',aaeY(0)).attr('y2',aaeY(0))
  .attr('stroke','#4a4a9a').attr('stroke-width',1.6).attr('opacity',0.7)
svg.append('path').datum(aaeTrace)
  .attr('d', d3.area().x((d,k)=>tScale(sampleT(k))).y0(aaeY(0)+1).y1(d=>aaeY(d*0.85)))
  .attr('fill','#1c1c6e').attr('opacity',0.85)
const pI = d3.path()
aaeTrace.forEach((a,k) => {
  if (a > 0) { const x = tScale(sampleT(k)); pI.moveTo(x,aaeY(0)+1.5); pI.lineTo(x,aaeY(a)) }
})
svg.append('path').attr('d',pI.toString()).attr('fill','none')
  .attr('stroke','#1c1c6e').attr('stroke-width',1.8)

// (ii) BSR
const bsrY = d3.scaleLinear().domain([0,1]).range([182.7,135])
svg.append('path').datum(bsrMain)
  .attr('d', d3.line().x(d=>tScale(d[0])).y(d=>bsrY(d[1])).curve(d3.curveMonotoneX))
  .attr('fill','none').attr('stroke','#1c1c6e').attr('stroke-width',1.7)

// (iii) channels
const channels = [
  {energy: la12Energy, bsr: la12Bsr, events: la12Events},
  {energy: la23Energy, bsr: la23Bsr, events: la23Events},
  {energy: lh12Energy, bsr: lh12Bsr, events: lh12Events},
  {energy: lh23Energy, bsr: lh23Bsr, events: lh23Events}
]
const chanLayout = [
  {label:270, bar:277.5, base:303.3, zero:358, up:20, down:40},
  {label:381.5, bar:386.5, base:413, zero:468.3, up:26, down:38},
  {label:493, bar:500.5, base:523.3, zero:578.3, up:32, down:28},
  {label:598, bar:603.3, base:633.3, zero:687.5, up:28, down:30}
]
channels.forEach((c,i) => {
  const L = chanLayout[i]
  const g = svg.append('g')
  txt(g, channelNames[i], 175, L.label, {size:20, weight:'bold'})
  g.append('rect').attr('x',tScale(0.5)).attr('width',tScale(165.5)-tScale(0.5))
    .attr('y',L.bar-3.5).attr('height',7).attr('fill','#b5b5b5')
  g.selectAll('rect.ev').data(c.events).join('rect').attr('class','ev')
    .attr('x',d=>tScale(d[0])).attr('width',d=>Math.max(1.6,tScale(d[1])-tScale(d[0])))
    .attr('y',L.bar-3.5).attr('height',7).attr('fill','#000')
  // energy around the baseline: light envelope, dark spikes
  const eY = d3.scaleLinear().domain([-9,9]).range([L.base+L.down, L.base-L.up])
  g.append('line').attr('x1',tScale(0.5)).attr('x2',tScale(165.5))
    .attr('y1',L.base).attr('y2',L.base).attr('stroke','#7b80bd').attr('stroke-width',1.4)
  g.append('path').datum(c.energy)
    .attr('d', d3.area().x((d,k)=>tScale(sampleT(k))).y0(d=>eY(-d*0.6)).y1(d=>eY(d*0.6)))
    .attr('fill','#6b70b5').attr('opacity',0.4)
  const p = d3.path()
  c.energy.forEach((a,k) => {
    if (a > 0) { const x = tScale(sampleT(k)); p.moveTo(x,eY(-a)); p.lineTo(x,eY(a)) }
  })
  g.append('path').attr('d',p.toString()).attr('fill','none')
    .attr('stroke','#1a2078').attr('stroke-width',1.6).attr('opacity',0.85)
  // BSR in red
  const rY = d3.scaleLinear().domain([0,1]).range([L.zero, L.base])
  g.append('path').datum(c.bsr)
    .attr('d', d3.line().x(d=>tScale(d[0])).y(d=>rY(d[1])).curve(d3.curveMonotoneX))
    .attr('fill','none').attr('stroke','#ef4b4b').attr('stroke-width',1.8).attr('opacity',0.9)
})

// time axis
const gAx = svg.append('g').attr('transform','translate(0,714)')
  .call(d3.axisBottom(tScale).tickValues(timeTicks).tickSizeInner(-11).tickSizeOuter(0).tickPadding(19))
gAx.select('.domain').attr('stroke','#9a9a9a').attr('stroke-width',3)
gAx.selectAll('.tick line').attr('stroke','#333')
gAx.selectAll('text').attr('font-size',22).attr('font-weight','bold').attr('font-family',SANS).attr('fill','#000')
txt(svg,'time (s)',802,789,{size:35,weight:'bold',anchor:'middle'})

/* =========== line panels =========== */
const tGrid = d3.range(48).map(i => -0.4 + i * 0.25)

function linePanel(o) {
  const g = svg.append('g')
  const x = d3.scaleLinear().domain(o.tDom).range([o.left,o.right])
  const y = d3.scaleLinear().domain(o.yDom).range([o.bottom,o.top])
  const clipId = o.id + '-clip'
  g.append('clipPath').attr('id',clipId).append('rect')
    .attr('x',o.left).attr('y',o.top-40).attr('width',o.right-o.left+1).attr('height',o.bottom-o.top+90)
  const plot = g.append('g').attr('clip-path',`url(#${clipId})`)
  const rows = o.series.map(s => tGrid.map((t,i) => [t, s.mean[i], s.sd[i]]))
  rows.forEach((r,si) => {
    plot.append('path').datum(r)
      .attr('d', d3.area().x(d=>x(d[0])).y0(d=>y(d[1]-d[2])).y1(d=>y(d[1]+d[2])))
      .attr('fill',o.colors[si]).attr('opacity',o.bandOp[si])
  })
  rows.forEach((r,si) => {
    plot.append('path').datum(r)
      .attr('d', d3.line().x(d=>x(d[0])).y(d=>y(d[1])))
      .attr('fill','none').attr('stroke',o.colors[si]).attr('stroke-width',1.9)
  })
  // axes
  const gy = g.append('g').attr('transform',`translate(${o.left},0)`)
    .call(d3.axisLeft(y).tickValues(o.yTicks).tickSizeInner(-5).tickSizeOuter(0).tickPadding(8).tickFormat(o.yFmt))
  const gx = g.append('g').attr('transform',`translate(0,${o.bottom})`).attr('clip-path',`url(#${clipId})`)
    .call(d3.axisBottom(x).tickValues(d3.range(12)).tickSizeInner(-5).tickSizeOuter(0).tickFormat(''))
  ;[gy,gx].forEach(a => {
    a.select('.domain').attr('stroke','#8a8a8a')
    a.selectAll('.tick line').attr('stroke','#8a8a8a')
  })
  gy.selectAll('text').attr('font-size',16).attr('font-family',SANS).attr('fill','#333')
  const gl = g.append('g').attr('clip-path',`url(#${clipId})`)
  tickNames.forEach((n,k) => subLabel(gl, x(k), o.bottom+21, n,
    {size:16, subSize:14, dy:9, weight:'normal', fill:'#333'}))
  txt(g,'time [normalized]',o.xLabelX,o.bottom+61,{size:25,weight:'bold',anchor:'middle'})
  if (o.yLabel) txt(g,o.yLabel,o.yLabelX,(o.top+o.bottom)/2+12,{size:19,weight:'bold',anchor:'middle',rotate:-90})
  if (o.legend) {
    const L = o.legend
    g.append('rect').attr('x',L.x).attr('y',L.y).attr('width',L.w).attr('height',L.h)
      .attr('fill','#fff').attr('stroke','#a8a8a8').attr('stroke-width',1)
    o.names.forEach((n,i) => {
      const cy = L.y + 11 + i * L.dy
      g.append('line').attr('x1',L.x+3).attr('x2',L.x+19).attr('y1',cy).attr('y2',cy)
        .attr('stroke',o.colors[i]).attr('stroke-width',2)
      txt(g,n,L.x+21,cy+5,{size:14.5,weight:'bold',fill:'#111'})
    })
  }
}

const fmtAAE = d3.format('d')
const fmtBSR = d => d === 0 ? '0' : d === 1 ? '1' : d3.format('.1f')(d)

// B
txt(svg,'B',10,853,{size:46,weight:'bold'})
linePanel({id:'pB', left:72, right:683, top:882, bottom:1102, tDom:[-0.977,10.957], yDom:[0,252.3],
  yTicks:[0,50,100,150,200,250], yFmt:fmtAAE, yLabel:'AAE', yLabelX:33, xLabelX:400,
  colors:focalColors, bandOp:[0.3,0.3,0.25], names:focalNames,
  series:[{mean:focalSTsBS_aae,sd:focalSTsBS_aaeSd},{mean:focalSTcsa_aae,sd:focalSTcsa_aaeSd},{mean:focalATsBS_aae,sd:focalATsBS_aaeSd}],
  legend:{x:76,y:888,w:122,h:58,dy:18.6}})
// C
txt(svg,'C',712,853,{size:46,weight:'bold'})
linePanel({id:'pC', left:795, right:1450, top:882, bottom:1102, tDom:[-0.989,11.968], yDom:[0,252.3],
  yTicks:[0,50,100,150,200,250], yFmt:fmtAAE, xLabelX:1122,
  colors:elecColors, bandOp:[0.25,0.22,0.25,0.2,0.2], names:elecNames,
  series:[{mean:elecSTsBS_aae,sd:elecSTsBS_aaeSd},{mean:elecSTcsa_aae,sd:elecSTcsa_aaeSd},{mean:elecATsBS_aae,sd:elecATsBS_aaeSd},{mean:elecATabs_aae,sd:elecATabs_aaeSd},{mean:elecATcsa_aae,sd:elecATcsa_aaeSd}],
  legend:{x:799,y:887,w:218,h:96,dy:18.7}})
// D
txt(svg,'D',10,1420,{size:46,weight:'bold'})
linePanel({id:'pD', left:71, right:736, top:1438, bottom:1656, tDom:[-0.998,12.016], yDom:[-0.098,1.093],
  yTicks:[0,0.2,0.4,0.6,0.8,1], yFmt:fmtBSR, yLabel:'BSR', yLabelX:35, xLabelX:400,
  colors:focalColors, bandOp:[0.3,0.3,0.25], names:focalNames,
  series:[{mean:focalSTsBS_bsr,sd:focalSTsBS_bsrSd},{mean:focalSTcsa_bsr,sd:focalSTcsa_bsrSd},{mean:focalATsBS_bsr,sd:focalATsBS_bsrSd}]})
// E
txt(svg,'E',728,1420,{size:46,weight:'bold'})
linePanel({id:'pE', left:788, right:1453, top:1438, bottom:1656, tDom:[-0.996,11.99], yDom:[-0.098,1.093],
  yTicks:[0,0.2,0.4,0.6,0.8,1], yFmt:fmtBSR, xLabelX:1122,
  colors:elecColors, bandOp:[0.25,0.22,0.25,0.2,0.2], names:elecNames,
  series:[{mean:elecSTsBS_bsr,sd:elecSTsBS_bsrSd},{mean:elecSTcsa_bsr,sd:elecSTcsa_bsrSd},{mean:elecATsBS_bsr,sd:elecATsBS_bsrSd},{mean:elecATabs_bsr,sd:elecATabs_bsrSd},{mean:elecATcsa_bsr,sd:elecATcsa_bsrSd}]})

/* =========== box panels =========== */
function boxPanel(o) {
  const g = svg.append('g')
  const gxs = d3.scaleBand().domain(d3.range(boxGroups.length)).range(o.range).paddingInner(o.pad)
  const sx = d3.scalePoint().domain(d3.range(o.colors.length)).range(o.inner)
  const vy = d3.scaleLinear().domain([0,100]).range([o.zero, o.zero - o.h100])
  o.stats.forEach((grp,gi) => {
    const x0 = gxs(gi)
    g.append('line').attr('x1',x0).attr('x2',x0+gxs.bandwidth()).attr('y1',o.base).attr('y2',o.base)
      .attr('stroke','#bdbdbd').attr('stroke-width',2.5)
    grp.forEach((st,si) => {
      const cx = x0 + sx(si), col = o.colors[si]
      g.append('line').attr('x1',cx).attr('x2',cx).attr('y1',vy(st[0])).attr('y2',vy(st[4]))
        .attr('stroke',col).attr('stroke-width',1.8)
      g.append('rect').attr('x',cx-6).attr('width',12).attr('y',vy(st[3]))
        .attr('height',Math.max(2,vy(st[1])-vy(st[3]))).attr('fill',col)
      g.append('line').attr('x1',cx-5).attr('x2',cx+5).attr('y1',vy(st[2])).attr('y2',vy(st[2]))
        .attr('stroke','#fff').attr('stroke-width',1.5).attr('opacity',0.85)
    })
    subLabel(g, x0 + gxs.bandwidth()/2, o.labelY, boxGroups[gi],
      {size:25, subSize:20, dy:o.subDy, weight:'bold', fill:'#111'})
  })
  o.sig.forEach(gi => {
    const cx = gxs(gi) + (sx(0) + sx(1)) / 2
    g.append('rect').attr('x',cx-16).attr('y',o.sigY-2.2).attr('width',32).attr('height',4.5).attr('fill','#ff0000')
  })
}

boxPanel({stats:boxFocalAAE, colors:focalBox, range:[94.5,722.5], pad:0.113, inner:[18.6,95.5],
  zero:1314.3, h100:111, base:1317, labelY:1348, subDy:14, sig:sigFocalAAE, sigY:1200.7})
boxPanel({stats:boxElecAAE, colors:elecBox, range:[809,1436.6], pad:0.112, inner:[11.2,103.5],
  zero:1308.3, h100:105, base:1311, labelY:1343, subDy:13, sig:sigElecAAE, sigY:1200.7})
boxPanel({stats:boxFocalBSR, colors:focalBox, range:[96.6,724], pad:0.112, inner:[18.6,95.4],
  zero:1855, h100:90, base:1864, labelY:1896, subDy:13, sig:sigFocalBSR, sigY:1753.3})
boxPanel({stats:boxElecBSR, colors:elecBox, range:[814.4,1441.1], pad:0.108, inner:[11.1,102.6],
  zero:1851.7, h100:88.3, base:1861, labelY:1892, subDy:13, sig:sigElecBSR, sigY:1753.3})
</script>
</body>
</html>
